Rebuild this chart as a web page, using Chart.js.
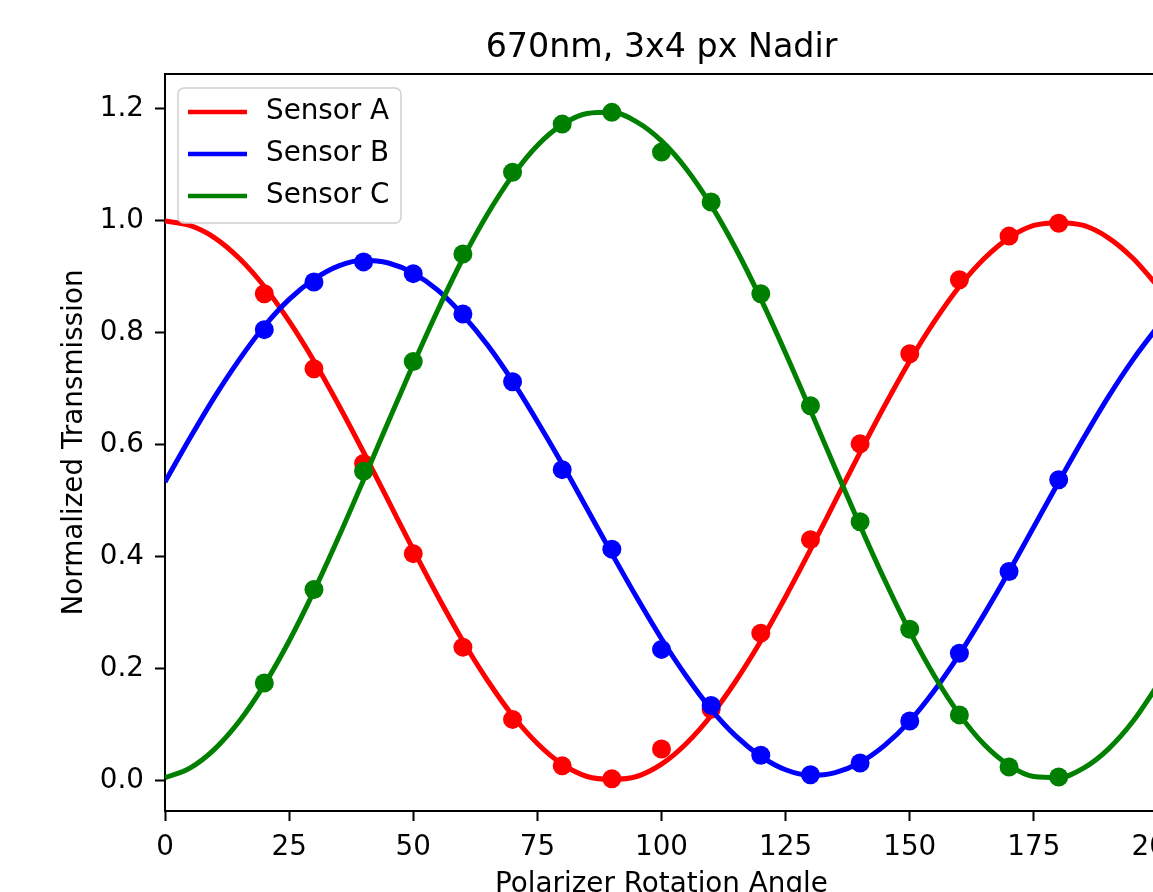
<!DOCTYPE html>
<html>
<head>
<meta charset="utf-8">
<script src="https://cdn.jsdelivr.net/npm/chart.js@4.4.1/dist/chart.umd.min.js"></script>
<style>
  html, body { margin: 0; padding: 0; overflow: hidden; background: #fff; }
  #wrap { position: absolute; left: 0; top: 0; width: 1200px; height: 920px; }
</style>
</head>
<body>
<div id="wrap"><canvas id="chart"></canvas></div>
<script>
const chartTitle = "670nm, 3x4 px Nadir";
const xTitle = "Polarizer Rotation Angle";
const yTitle = "Normalized Transmission";

const xTicks = [0, 25, 50, 75, 100, 125, 150, 175, 200];
const yTicks = [0.0, 0.2, 0.4, 0.6, 0.8, 1.0, 1.2];

const seriesNames = ["Sensor A", "Sensor B", "Sensor C"];
const seriesColors = ["#ff0000", "#0000ff", "#008000"];

// measured points
const sampleAngles = [20, 30, 40, 50, 60, 70, 80, 90, 100, 110, 120, 130, 140, 150, 160, 170, 180];
const sensorAData = [0.870, 0.736, 0.567, 0.406, 0.239, 0.110, 0.027, 0.004, 0.057, 0.128, 0.264, 0.431, 0.602, 0.763, 0.895, 0.973, 0.996];
const sensorBData = [0.806, 0.891, 0.927, 0.906, 0.834, 0.713, 0.556, 0.414, 0.235, 0.135, 0.046, 0.011, 0.032, 0.107, 0.228, 0.374, 0.538];
const sensorCData = [0.175, 0.342, 0.553, 0.749, 0.941, 1.087, 1.173, 1.194, 1.123, 1.034, 0.870, 0.670, 0.463, 0.271, 0.118, 0.025, 0.007];

// fitted curves, every 5 degrees
const fitAngles = [0, 5, 10, 15, 20, 25, 30, 35, 40, 45, 50, 55, 60, 65, 70, 75, 80, 85, 90, 95, 100,
  105, 110, 115, 120, 125, 130, 135, 140, 145, 150, 155, 160, 165, 170, 175, 180, 185, 190, 195, 200];
const sensorAFit = [1.000, 0.992, 0.970, 0.933, 0.883, 0.821, 0.750, 0.671, 0.587, 0.500, 0.413, 0.329, 0.250, 0.179, 0.117, 0.067, 0.030, 0.008, 0.003, 0.008, 0.030,
  0.067, 0.117, 0.179, 0.250, 0.329, 0.413, 0.500, 0.587, 0.671, 0.750, 0.821, 0.883, 0.933, 0.970, 0.992, 0.997, 0.992, 0.970, 0.933, 0.883];
const sensorBFit = [0.534, 0.612, 0.686, 0.753, 0.812, 0.860, 0.896, 0.920, 0.930, 0.925, 0.907, 0.876, 0.832, 0.778, 0.714, 0.642, 0.566, 0.486, 0.406, 0.328, 0.254,
  0.187, 0.128, 0.080, 0.044, 0.020, 0.010, 0.015, 0.033, 0.064, 0.107, 0.162, 0.226, 0.298, 0.374, 0.454, 0.534, 0.612, 0.686, 0.753, 0.812];
const sensorCFit = [0.006, 0.023, 0.057, 0.107, 0.172, 0.250, 0.339, 0.436, 0.538, 0.642, 0.744, 0.842, 0.933, 1.013, 1.081, 1.135, 1.172, 1.192, 1.194, 1.177, 1.143,
  1.093, 1.028, 0.950, 0.861, 0.764, 0.662, 0.558, 0.456, 0.358, 0.267, 0.187, 0.119, 0.065, 0.028, 0.008, 0.006, 0.023, 0.057, 0.107, 0.172];

const pairs = (xs, ys) => xs.map((x, i) => ({ x, y: ys[i] }));

const fits = [sensorAFit, sensorBFit, sensorCFit];
const samples = [sensorAData, sensorBData, sensorCData];

const FONT = "'DejaVu Sans', sans-serif";
const datasets = [];
seriesNames.forEach((name, i) => {
  datasets.push({
    label: name,
    isFit: true,
    data: pairs(fitAngles, fits[i]),
    borderColor: seriesColors[i],
    borderWidth: 5,
    pointRadius: 0,
    cubicInterpolationMode: "monotone",
    fill: false,
    order: 5 - i * 2,
  });
  datasets.push({
    label: name + " data",
    data: pairs(sampleAngles, samples[i]),
    showLine: false,
    pointRadius: 9.5,
    pointHoverRadius: 9.5,
    pointBorderWidth: 0,
    backgroundColor: seriesColors[i],
    borderColor: seriesColors[i],
    order: 6 - i * 2,
  });
});

const frameAndText = {
  id: "frameAndText",
  afterDraw(chart) {
    const { ctx, chartArea: a } = chart;
    ctx.save();
    // top + right spines
    ctx.strokeStyle = "#000";
    ctx.lineWidth = 2;
    ctx.beginPath();
    ctx.moveTo(a.left, a.top);
    ctx.lineTo(a.right, a.top);
    ctx.lineTo(a.right, a.bottom);
    ctx.stroke();

    ctx.fillStyle = "#000";
    ctx.textAlign = "center";
    ctx.textBaseline = "alphabetic";
    ctx.font = "33.3px " + FONT;
    ctx.fillText(chartTitle, (a.left + a.right) / 2, 57);
    ctx.font = "27.8px " + FONT;
    ctx.fillText(xTitle, (a.left + a.right) / 2, 892);
    ctx.save();
    ctx.translate(82, (a.top + a.bottom) / 2);
    ctx.rotate(-Math.PI / 2);
    ctx.fillText(yTitle, 0, 0);
    ctx.restore();

    // legend box
    const bx = 178, by = 88, bw = 223, bh = 135, r = 6;
    ctx.beginPath();
    ctx.roundRect(bx, by, bw, bh, r);
    ctx.fillStyle = "rgba(255,255,255,0.8)";
    ctx.fill();
    ctx.strokeStyle = "#d0d0d0";
    ctx.lineWidth = 1.5;
    ctx.stroke();
    const fitSets = chart.data.datasets.filter((d) => d.isFit);
    fitSets.forEach((d, i) => {
      const y = 112 + i * 42;
      ctx.strokeStyle = d.borderColor;
      ctx.lineWidth = 4.6;
      ctx.beginPath();
      ctx.moveTo(188, y);
      ctx.lineTo(247, y);
      ctx.stroke();
      ctx.fillStyle = "#000";
      ctx.textAlign = "left";
      ctx.textBaseline = "middle";
      ctx.font = "27.8px " + FONT;
      ctx.fillText(d.label, 266, y);
    });
    ctx.restore();
  },
};

const axisStyle = {
  grid: { display: true, drawOnChartArea: false, drawTicks: true, tickLength: 10, tickWidth: 2, tickColor: "#000" },
  border: { display: true, color: "#000", width: 2 },
};

new Chart(document.getElementById("chart"), {
  type: "line",
  data: { datasets },
  options: {
    responsive: true,
    maintainAspectRatio: false,
    devicePixelRatio: 1,
    animation: false,
    layout: { padding: { left: 0, top: 74, right: 42, bottom: 0 } },
    plugins: { legend: { display: false }, tooltip: { enabled: false }, title: { display: false } },
    scales: {
      x: {
        type: "linear",
        min: 0,
        max: 200,
        ...axisStyle,
        afterBuildTicks: (s) => { s.ticks = xTicks.map((v) => ({ value: v })); },
        afterFit: (s) => { s.height = 109; },
        ticks: { color: "#000", font: { family: FONT, size: 27.8 }, padding: 10, maxRotation: 0, autoSkip: false, callback: (v) => String(v) },
      },
      y: {
        type: "linear",
        min: -0.0536,
        max: 1.2625,
        ...axisStyle,
        afterBuildTicks: (s) => { s.ticks = yTicks.map((v) => ({ value: v })); },
        afterFit: (s) => { s.width = 165; },
        ticks: { color: "#000", font: { family: FONT, size: 27.8 }, padding: 11, autoSkip: false, callback: (v) => Number(v).toFixed(1) },
      },
    },
  },
  plugins: [frameAndText],
});
</script>
</body>
</html>
